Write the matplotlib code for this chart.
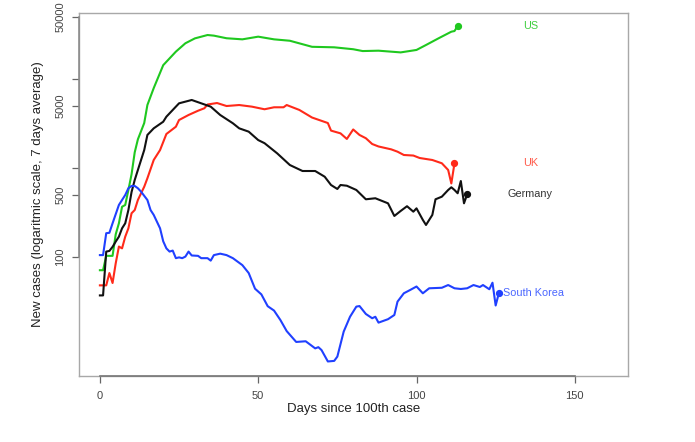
import matplotlib
matplotlib.use("Agg")
import matplotlib.pyplot as plt
import matplotlib.transforms as mtransforms

plt.rcParams['font.family'] = ['Liberation Sans', 'DejaVu Sans']

# ---- data ----
us_days = [0, 1, 2, 3, 4, 5, 6, 7, 8, 9, 10, 11, 12, 14, 15, 17, 20, 24, 27, 30, 34, 36,
           40, 45, 50, 55, 60, 67, 74, 80, 83, 88, 95, 100, 103, 107, 111, 112, 113]
us_vals = [71, 71, 103, 103, 103, 180, 239, 367, 384, 566, 850, 1500, 2100, 3200, 5100,
           7900, 14300, 20300, 25200, 28600, 31200, 30700, 28700, 27900, 29900, 27900,
           26900, 23000, 22700, 21600, 20600, 20800, 19900, 21200, 24100, 28700, 34000,
           34600, 39400]

uk_days = [0, 1, 2, 3, 4, 5, 6, 7, 8, 9, 10, 11, 12, 14, 15, 17, 19, 21, 24, 25, 28, 31,
           33, 34, 37, 40, 44, 48, 52, 55, 58, 59, 63, 67, 72, 73, 76, 78, 80, 82, 84, 86,
           88, 92, 94, 96, 99, 101, 105, 108, 110, 111, 112]
uk_vals = [48, 48, 48, 66, 51, 85, 131, 125, 169, 210, 310, 337, 437, 616, 766, 1230, 1590,
           2410, 2910, 3460, 3940, 4400, 4690, 5170, 5370, 4970, 5100, 4890, 4570, 4810,
           4810, 5100, 4490, 3690, 3200, 2630, 2450, 2120, 2710, 2350, 2160, 1860, 1745,
           1620, 1525, 1400, 1380, 1295, 1230, 1130, 950, 670, 1130]

de_days = [0, 1, 2, 3, 4, 5, 6, 7, 8, 9, 10, 11, 12, 14, 15, 17, 20, 21, 24, 25, 29, 32, 35,
           38, 42, 44, 47, 50, 52, 56, 60, 64, 68, 71, 73, 75, 76, 78, 81, 84, 87, 91, 93,
           95, 97, 99, 100, 102, 103, 105, 106, 108, 110, 111, 112, 113, 114, 115, 116]
de_vals = [37, 37, 115, 117, 130, 149, 169, 210, 239, 337, 537, 733, 950, 1590, 2350, 2790,
           3310, 3770, 4890, 5330, 5810, 5330, 4890, 3940, 3180, 2790, 2560, 2060, 1900,
           1460, 1080, 925, 925, 798, 644, 581, 644, 632, 566, 445, 457, 401, 289, 329,
           372, 323, 352, 261, 229, 297, 445, 476, 566, 607, 566, 520, 714, 401, 506]

kr_days = [0, 1, 2, 3, 4, 6, 7, 8, 9, 10, 11, 12, 13, 15, 16, 17, 19, 20, 21, 22, 23, 24,
           25, 26, 27, 28, 29, 31, 32, 34, 35, 36, 38, 40, 42, 45, 47, 49, 51, 53, 55, 57,
           59, 62, 65, 68, 69, 70, 72, 74, 75, 77, 79, 81, 82, 84, 86, 87, 88, 91, 93, 94,
           96, 98, 100, 102, 104, 108, 110, 112, 114, 116, 118, 120, 121, 123, 124, 125, 126]
kr_vals = [105, 105, 185, 187, 239, 384, 437, 497, 592, 628, 628, 592, 542, 437, 337, 297,
           210, 150, 125, 115, 118, 97, 99, 97, 101, 115, 104, 103, 97, 97, 91, 105, 109,
           105, 97, 81, 66, 44, 38, 28, 25, 19.6, 14.7, 11.1, 11.3, 9.4, 9.7, 9.0, 6.7, 6.8,
           7.6, 14.5, 21.3, 27.7, 28.1, 22.9, 20.5, 21.3, 18.3, 20.0, 22.3, 31.5, 39.1,
           42.6, 46.6, 39.1, 44.5, 45.1, 48.4, 44.5, 43.7, 44.5, 48.4, 46.0, 48.4, 43.4,
           51.4, 28.5, 39.1]

series = [
    ("US", us_days, us_vals, "#1FC81F", "#3FCF3F"),
    ("UK", uk_days, uk_vals, "#FF2A1A", "#FF5A4A"),
    ("Germany", de_days, de_vals, "#111111", "#333333"),
    ("South Korea", kr_days, kr_vals, "#2040FF", "#4A66FF"),
]

x_ticks = [0, 50, 100, 150]
y_ticks = [100, 500, 1000, 5000, 10000, 50000]
y_ticklabels = ["100", "500", "", "5000", "", "50000"]
label_day = 136

# ---- figure ----
fig = plt.figure(figsize=(6.95, 4.42), dpi=100)
ax = fig.add_axes([79 / 695, 66 / 442, 549 / 695, 363 / 442])
ax.set_yscale("log")
ax.set_xlim(-6.6, 166.8)
ax.set_ylim(4.6, 55150)

for name, d, v, c, lc in series:
    ax.plot(d, v, color=c, lw=1.5, solid_joinstyle="round")
    ax.plot(d[-1], v[-1], "o", color=c, ms=4.2)
    if name == "South Korea":
        ax.text(d[-1] + 1.3, v[-1], name, color=lc, fontsize=7.8,
                ha="left", va="center")
    else:
        ax.text(label_day, v[-1], name, color=lc, fontsize=7.8,
                ha="center", va="center")

ax.set_xticks(x_ticks)
ax.set_xticklabels([str(t) for t in x_ticks])
ax.set_yticks(y_ticks)
ax.set_yticklabels(y_ticklabels, rotation=90, va="center")
ax.minorticks_off()
ax.tick_params(axis="both", direction="out", length=5, width=0.9,
               color="#666666", labelcolor="#444444", labelsize=8.0)
ax.tick_params(axis="x", pad=6)
ax.tick_params(axis="y", pad=5)

for s in ax.spines.values():
    s.set_color("#A8A8A8")
    s.set_linewidth(1.0)

# R-style axis lines spanning the tick range
tx = mtransforms.blended_transform_factory(ax.transData, ax.transAxes)
ax.plot([x_ticks[0], x_ticks[-1]], [0, 0], transform=tx, color="#777777",
        lw=1.2, clip_on=False, zorder=5)
ty = mtransforms.blended_transform_factory(ax.transAxes, ax.transData)
ax.plot([0, 0], [y_ticks[0], y_ticks[-1]], transform=ty, color="#888888",
        lw=1.1, clip_on=False, zorder=5)

ax.set_xlabel("Days since 100th case", fontsize=9.5, color="#222222", labelpad=1)
ax.set_ylabel("New cases (logaritmic scale, 7 days average)", fontsize=9.5,
              color="#222222", labelpad=8)

fig.savefig("out.png", dpi=100)
